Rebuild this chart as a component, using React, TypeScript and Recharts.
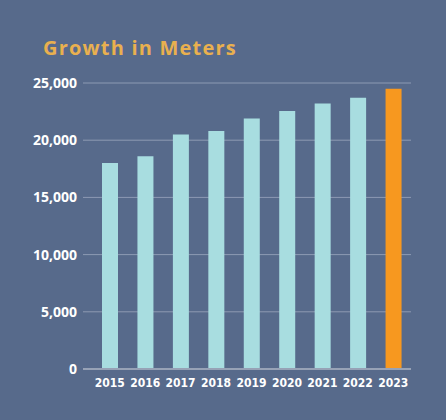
import { BarChart, Bar, XAxis, YAxis, CartesianGrid, Cell } from "recharts"

const years = ["2015", "2016", "2017", "2018", "2019", "2020", "2021", "2022", "2023"]
const meters = [18000, 18600, 20500, 20800, 21900, 22550, 23200, 23700, 24500]
const yTicks = [0, 5000, 10000, 15000, 20000, 25000]

const data = years.map((year, i) => ({ year, meters: meters[i] }))

const bg = "#576a8b"
const barColor = "#a8dde0"
const highlight = "#f7981f"

export default function App() {
  return (
    <div style={{ position: "absolute", left: 0, top: 0, width: 446, height: 420, background: bg }}>
      <div
        style={{
          position: "absolute",
          left: 43,
          top: 34,
          color: "#e9b04f",
          fontFamily: "'Open Sans', sans-serif",
          fontWeight: 700,
          fontSize: 20,
          letterSpacing: 1.2
        }}
      >
        Growth in Meters
      </div>
      <BarChart
        width={446}
        height={420}
        data={data}
        margin={{ top: 83, right: 35, left: 0, bottom: 0 }}
        barSize={16}
      >
        <CartesianGrid vertical={false} stroke="#8d9ab3" strokeWidth={1} />
        <XAxis
          dataKey="year"
          height={51}
          padding={{ left: 9, right: 0 }}
          axisLine={{ stroke: "#97a2b6", strokeWidth: 2 }}
          tickLine={false}
          tick={{ fill: "#ffffff", fontSize: 12, fontWeight: 700, fontFamily: "'DejaVu Sans Condensed', 'DejaVu Sans', sans-serif" }}
          tickMargin={3}
        />
        <YAxis
          width={83}
          domain={[0, 25000]}
          ticks={yTicks}
          axisLine={false}
          tickLine={false}
          tickFormatter={(v) => v.toLocaleString("en-US")}
          tick={{ fill: "#ffffff", fontSize: 14, fontWeight: 700, fontFamily: "'Open Sans', sans-serif" }}
          tickMargin={0}
        />
        <Bar dataKey="meters" isAnimationActive={false}>
          {data.map((d, i) => (
            <Cell key={d.year} fill={i === data.length - 1 ? highlight : barColor} />
          ))}
        </Bar>
      </BarChart>
    </div>
  )
}
